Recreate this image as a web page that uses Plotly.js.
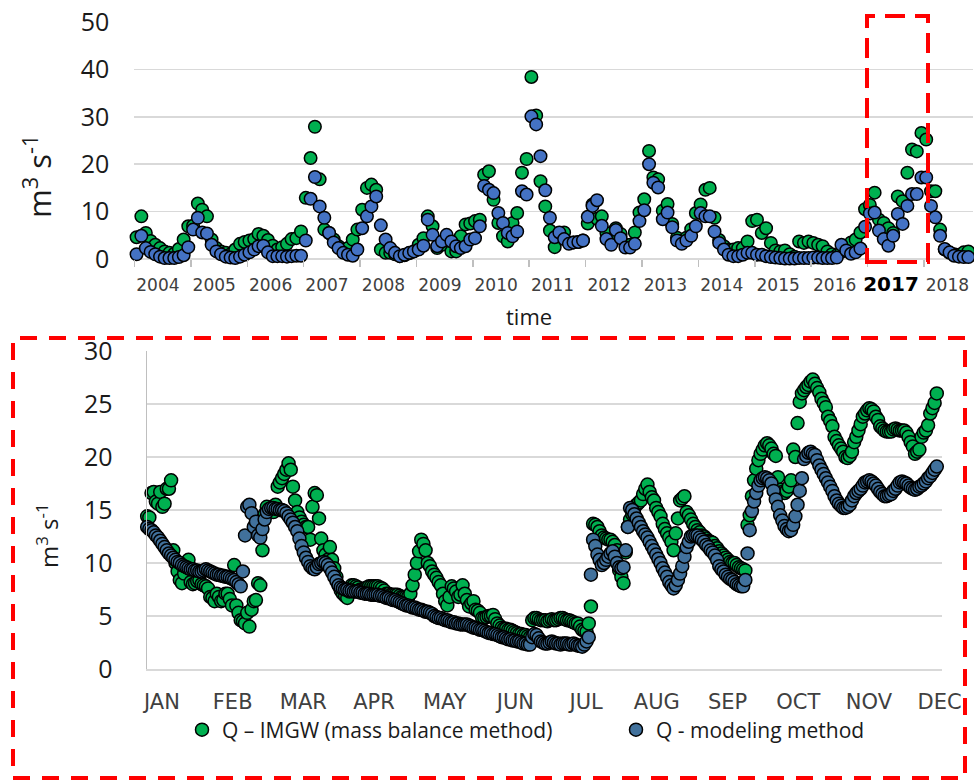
<!DOCTYPE html>
<html>
<head>
<meta charset="utf-8">
<script src="https://cdn.plot.ly/plotly-3.0.1.min.js"></script>
<style>html,body{margin:0;padding:0;background:#fff}#chart{width:974px;height:781px}</style>
</head>
<body>
<div id="chart"></div>
<script>
// ---------- Top chart: monthly discharge 2004-01 .. 2018-10 ----------
const topYears = [2004,2005,2006,2007,2008,2009,2010,2011,2012,2013,2014,2015,2016,2017,2018];
const topYearLabels = ["2004","2005","2006","2007","2008","2009","2010","2011","2012","2013","2014","2015","2016","2017","2018"];
const topModel = [
  1.0, 4.9, 2.3, 1.5, 1.0, 0.5, 0.2, 0.2, 0.2, 0.4, 0.8, 2.5,
  6.2, 8.7, 5.6, 5.4, 3.0, 1.6, 1.0, 0.5, 0.3, 0.2, 0.5, 0.9,
  1.4, 2.0, 2.7, 2.8, 1.4, 0.6, 0.6, 0.6, 0.5, 0.6, 0.7, 0.7,
  3.9, 12.7, 17.3, 11.1, 8.7, 5.5, 3.5, 2.3, 1.3, 0.9, 0.7, 2.0,
  6.5, 9.0, 11.1, 13.2, 7.1, 4.1, 2.3, 1.3, 0.6, 0.9, 1.3, 1.6,
  2.0, 2.8, 8.3, 5.1, 2.7, 3.7, 5.1, 3.7, 2.7, 2.3, 2.7, 4.1,
  4.4, 6.9, 15.4, 14.6, 13.9, 9.7, 7.6, 5.5, 4.8, 5.8, 14.3, 13.6,
  30.1, 28.4, 21.7, 14.5, 8.7, 4.6, 5.6, 4.2, 3.2, 3.5, 3.6, 3.9,
  8.9, 11.2, 12.4, 7.0, 4.2, 3.0, 6.1, 4.4, 2.4, 2.4, 3.2, 8.0,
  10.3, 20.0, 16.1, 15.1, 8.4, 9.8, 6.7, 3.9, 3.2, 3.9, 4.9, 6.9,
  9.7, 9.0, 9.0, 5.8, 3.4, 2.0, 0.9, 0.6, 0.6, 0.9, 1.3, 1.3,
  0.9, 0.9, 0.6, 0.4, 0.3, 0.2, 0.1, 0.1, 0.1, 0.2, 0.2, 0.2,
  0.3, 0.3, 0.2, 0.2, 0.2, 0.3, 3.0, 1.8, 1.1, 1.4, 2.2, 6.8,
  9.6, 9.8, 6.0, 4.2, 2.8, 4.9, 9.5, 7.4, 11.2, 13.7, 13.7, 17.2,
  17.2, 11.2, 8.8, 4.9, 2.1, 1.4, 0.7, 0.5, 0.4, 0.4
];
const topIMGW = [
  4.6, 9.0, 5.5, 3.8, 3.0, 2.3, 1.6, 1.3, 1.1, 2.1, 4.1, 6.9,
  7.0, 11.7, 10.4, 9.0, 4.1, 2.3, 1.6, 1.3, 1.0, 2.0, 3.2, 3.6,
  3.9, 4.2, 5.3, 4.9, 4.0, 2.8, 2.0, 2.5, 3.2, 4.2, 4.4, 5.8,
  12.9, 21.3, 27.9, 16.8, 6.2, 5.5, 4.1, 2.7, 2.0, 2.3, 4.1, 6.2,
  10.4, 15.0, 15.7, 14.6, 2.0, 1.3, 1.3, 1.0, 0.6, 0.8, 1.2, 1.6,
  3.0, 4.4, 9.0, 6.9, 2.3, 3.0, 4.0, 1.6, 1.6, 4.8, 7.3, 7.5,
  8.0, 8.3, 17.8, 18.5, 12.5, 7.6, 4.8, 3.7, 7.6, 9.7, 18.2, 21.1,
  38.4, 30.3, 16.4, 11.1, 6.0, 2.5, 5.5, 5.6, 3.5, 3.5, 3.6, 3.9,
  7.5, 11.5, 8.5, 9.0, 5.5, 4.0, 6.5, 5.3, 3.0, 3.0, 5.6, 9.8,
  12.6, 22.8, 17.2, 16.8, 10.2, 11.6, 7.4, 4.5, 3.8, 4.5, 6.3, 9.7,
  11.5, 14.6, 15.0, 8.7, 4.0, 2.7, 2.0, 2.0, 2.3, 2.3, 3.7, 8.0,
  8.3, 5.5, 6.5, 3.4, 1.8, 1.6, 1.8, 1.0, 0.5, 3.7, 3.4, 3.7,
  3.4, 3.0, 2.7, 1.6, 1.0, 0.8, 1.5, 2.2, 3.5, 4.1, 5.6, 10.5,
  11.4, 14.0, 8.3, 7.6, 6.5, 5.5, 13.2, 12.2, 18.2, 23.1, 22.7, 26.6,
  25.2, 14.3, 14.3, 6.2, 2.0, 1.3, 1.0, 0.9, 1.4, 1.6
];

// ---------- Bottom chart: daily discharge 2017 ----------
const monthLabels = ["JAN","FEB","MAR","APR","MAY","JUN","JUL","AUG","SEP","OCT","NOV","DEC"];
const dailyModel = [
  13.5,13.4,13.2,13.1,12.9,12.6,12.4,12.1,11.8,11.5,
  11.2,10.9,10.7,10.5,10.3,10.1,10.0,9.8,9.7,9.6,
  9.5,9.4,9.4,9.3,9.3,9.2,9.2,9.3,9.4,9.3,
  9.2,9.1,9.0,8.9,8.9,8.8,8.8,8.7,8.7,8.6,
  8.5,8.4,8.2,8.0,7.8,9.2,12.6,15.3,15.5,14.7,
  13.4,13.9,12.6,12.4,13.2,14.1,14.8,15.1,15.2,15.2,
  15.1,15.1,15.0,15.0,14.9,14.7,14.4,14.1,13.8,13.4,
  13.0,12.3,11.6,11.0,10.5,10.1,9.7,9.5,9.4,9.6,
  9.9,10.0,10.1,10.0,9.8,9.5,9.1,8.7,8.3,7.9,
  7.7,7.6,7.5,7.5,7.4,7.4,7.3,7.3,7.3,7.2,
  7.2,7.1,7.1,7.1,7.0,7.0,7.0,7.0,6.9,6.9,
  6.8,6.7,6.7,6.6,6.5,6.5,6.4,6.3,6.2,6.1,
  6.0,6.0,5.9,5.8,5.8,5.7,5.6,5.6,5.5,5.4,
  5.4,5.3,5.2,5.0,4.9,4.8,4.8,4.7,4.6,4.6,
  4.5,4.4,4.4,4.3,4.3,4.2,4.2,4.2,4.2,4.1,
  4.0,3.9,3.9,3.8,3.7,3.7,3.6,3.5,3.4,3.4,
  3.3,3.3,3.2,3.1,3.0,3.0,2.9,2.8,2.8,2.7,
  2.7,2.6,2.6,2.5,2.4,2.4,2.3,2.3,3.0,3.3,
  3.2,2.9,2.6,2.5,2.4,2.4,2.5,2.6,2.5,2.4,
  2.4,2.3,2.4,2.4,2.4,2.3,2.3,2.4,2.3,2.2,
  2.2,2.1,2.3,2.6,3.0,8.9,12.2,11.6,10.8,10.3,
  9.8,10.0,10.3,10.6,10.9,11.1,10.6,10.0,9.6,9.5,
  9.6,11.2,13.4,15.2,15.0,14.6,14.2,13.8,13.4,13.0,
  12.7,12.4,12.0,11.6,11.2,10.8,10.4,10.0,9.5,9.1,
  8.7,8.2,7.9,7.6,7.9,8.4,9.0,9.7,10.6,11.5,
  12.0,12.5,12.6,12.6,12.6,12.4,12.2,12.0,11.7,11.5,
  11.2,11.0,10.7,10.3,9.7,9.4,9.2,8.9,8.7,8.5,
  8.4,8.2,8.0,7.9,7.8,7.8,8.4,10.9,13.1,14.9,
  15.8,16.6,17.3,17.8,18.0,18.1,18.0,17.8,17.5,16.8,
  16.0,15.3,14.5,14.0,13.5,13.2,13.0,13.1,13.6,14.4,
  15.5,16.8,18.0,19.8,20.1,20.4,20.5,20.3,20.2,19.7,
  19.2,18.8,18.4,18.0,17.6,17.2,16.8,16.3,15.9,15.6,
  15.4,15.2,15.2,15.3,15.5,15.9,16.3,16.6,16.8,17.0,
  17.3,17.6,17.7,17.8,17.7,17.5,17.3,17.0,16.7,16.5,
  16.3,16.3,16.4,16.5,16.8,17.0,17.3,17.6,17.7,17.6,
  17.5,17.3,17.1,17.0,16.9,17.0,17.2,17.3,17.5,17.7,
  18.0,18.2,18.5,18.8,19.1
];
const dailyIMGW = [
  14.8,14.4,14.3,16.6,16.7,15.8,15.6,16.7,15.3,15.6,
  17.0,17.0,17.8,11.2,10.0,9.2,8.4,8.1,9.0,10.0,
  10.3,8.2,8.0,8.1,8.3,8.4,8.0,7.9,7.8,7.6,
  6.8,6.7,6.4,7.1,6.8,6.4,6.5,7.1,7.1,6.6,
  6.0,9.8,6.0,5.3,4.6,4.5,4.3,5.3,4.0,5.6,
  6.4,6.5,8.1,7.9,11.2,14.6,15.3,15.0,14.9,14.8,
  15.5,17.2,17.6,18.0,18.4,18.8,19.4,18.8,17.2,15.9,
  14.8,14.3,13.9,13.6,13.4,13.4,12.2,15.3,16.6,16.4,
  14.2,12.3,11.2,10.8,10.3,11.5,10.3,9.5,8.7,7.9,
  7.4,7.1,6.9,6.7,7.3,7.9,7.9,7.8,7.7,7.5,
  7.5,7.6,7.7,7.8,7.8,7.8,7.8,7.8,7.7,7.6,
  7.4,7.1,7.1,7.0,7.0,7.0,7.0,6.9,6.8,6.8,
  6.8,6.8,7.1,7.9,8.9,10.0,11.1,12.2,11.8,11.2,
  10.0,9.7,9.2,8.9,8.6,8.2,7.9,7.1,6.4,6.0,
  6.8,7.8,7.6,7.3,6.8,7.0,7.9,7.1,6.5,5.9,
  6.2,6.4,5.6,5.5,5.3,4.8,4.8,4.9,5.0,5.0,
  5.1,4.7,4.3,4.1,3.9,3.8,3.8,3.7,3.7,3.6,
  3.5,3.4,3.3,3.3,3.2,3.2,3.1,3.0,4.6,4.8,
  4.8,4.7,4.6,4.6,4.6,4.5,4.6,4.7,4.6,4.6,
  4.7,4.8,4.8,4.7,4.6,4.6,4.5,4.4,4.3,4.3,
  4.0,3.7,3.6,3.5,4.3,5.9,13.7,13.6,13.4,13.0,
  12.6,12.4,12.3,12.2,12.2,12.0,11.7,11.2,9.3,8.7,
  8.1,11.0,13.4,14.1,14.6,15.2,15.5,15.7,15.9,16.5,
  17.0,17.4,16.7,16.2,15.9,15.2,14.8,14.4,13.7,13.2,
  12.8,12.4,12.0,11.2,12.8,14.2,15.9,16.1,16.3,14.8,
  14.5,14.1,13.7,13.4,13.1,12.9,12.6,12.5,12.3,12.1,
  12.0,11.9,11.6,11.4,11.1,10.9,10.7,10.5,10.3,10.1,
  10.0,10.0,9.8,9.6,9.5,9.4,9.3,13.6,14.5,16.3,
  17.8,18.9,19.7,20.3,20.7,21.1,21.3,21.1,20.8,20.3,
  20.1,18.1,16.9,16.7,16.6,16.8,17.2,17.8,20.7,20.0,
  23.2,25.2,26.0,26.3,26.6,26.8,27.1,27.3,26.9,26.5,
  26.1,25.5,25.1,24.7,23.8,23.4,22.9,21.9,21.5,21.1,
  20.8,20.5,20.0,19.9,20.1,20.5,21.4,21.9,22.5,23.1,
  23.8,24.1,24.4,24.6,24.5,24.3,23.8,23.5,22.9,22.7,
  22.5,22.4,22.4,22.4,22.6,22.7,22.6,22.5,22.5,22.5,
  22.3,21.9,21.4,21.0,20.3,20.5,20.7,21.9,22.3,22.5,
  23.0,24.1,24.6,25.1,26.0
];

// ---------- derived coordinates ----------
const topDates = topModel.map((_, i) => {
  const y = 2004 + Math.floor(i / 12);
  const m = (i % 12) + 1;
  return y + "-" + String(m).padStart(2, "0") + "-15";
});
const days = dailyModel.map((_, i) => i + 1);

const W = 974, H = 781;
const px = v => v / W, py = v => 1 - v / H;
const narrow = "'Liberation Sans Narrow','DejaVu Sans',sans-serif";
const sans = "'Open Sans','Noto Sans',sans-serif";
const green = "#00b050", blueTop = "#4472c4", blueBot = "#41719c";

const mk = (c, s) => ({color: c, size: s, line: {color: "#000", width: 1.5}});

const traces = [
  {x: topDates, y: topIMGW, type: "scatter", mode: "markers", xaxis: "x", yaxis: "y",
   marker: mk(green, 12.5), showlegend: false, cliponaxis: false, hoverinfo: "skip"},
  {x: topDates, y: topModel, type: "scatter", mode: "markers", xaxis: "x", yaxis: "y",
   marker: mk(blueTop, 12.5), showlegend: false, cliponaxis: false, hoverinfo: "skip"},
  {x: days, y: dailyIMGW, type: "scatter", mode: "markers", xaxis: "x2", yaxis: "y2",
   marker: mk(green, 13), name: "Q \u2013 IMGW (mass balance method)", legend: "legend",
   cliponaxis: false, hoverinfo: "skip"},
  {x: days, y: dailyModel, type: "scatter", mode: "markers", xaxis: "x2", yaxis: "y2",
   marker: mk(blueBot, 13), name: "Q - modeling method", legend: "legend2",
   cliponaxis: false, hoverinfo: "skip"}
];

const yearTickVals = topYears.map(y => y + "-06-01");
const yearTickText = topYearLabels.map(t => t === "2017"
  ? '<b><span style="font-size:20px;color:#000">' + t + '</span></b>' : t);
const yearStarts = topYears.map(y => y + "-01-01");

const layout = {
  width: W, height: H,
  margin: {l: 0, r: 0, t: 0, b: 0},
  paper_bgcolor: "#fff", plot_bgcolor: "rgba(0,0,0,0)",
  xaxis: {
    type: "date", domain: [px(134.4), px(973)], range: ["2004-01-01", "2018-11-14"],
    anchor: "y", tickmode: "array", tickvals: yearTickVals, ticktext: yearTickText,
    ticks: "", showgrid: false, zeroline: false, showline: false,
    tickfont: {family: narrow, size: 17, color: "#404040", stretch: "condensed"}, ticklabelstandoff: 14,
    minor: {tickmode: "array", tickvals: yearStarts, ticks: "outside", ticklen: 7,
            tickcolor: "#bfbfbf", tickwidth: 1.5, showgrid: false},
    automargin: false, fixedrange: true
  },
  yaxis: {
    domain: [py(259), py(22)], range: [0, 50], dtick: 10, anchor: "x",
    showgrid: true, gridcolor: "#d9d9d9", gridwidth: 1.5, zeroline: true,
    zerolinecolor: "#d9d9d9", zerolinewidth: 1.5, showline: false, ticks: "",
    tickfont: {family: sans, size: 25, color: "#1a1a1a"}, ticklabelstandoff: 24,
    automargin: false, fixedrange: true
  },
  xaxis2: {
    domain: [px(147), px(942)], range: [1.92, 367.4], anchor: "y2",
    tickmode: "array", tickvals: monthLabels.map((_, i) => 8.8 + 32.5 * i), ticktext: monthLabels,
    ticks: "", showgrid: false, zeroline: false, showline: true, linecolor: "#d9d9d9", linewidth: 1.5,
    tickfont: {family: narrow, size: 21, color: "#404040", stretch: "condensed"}, ticklabelstandoff: 13,
    automargin: false, fixedrange: true
  },
  yaxis2: {
    domain: [py(669), py(351)], range: [0, 30], dtick: 5, anchor: "x2",
    showgrid: true, gridcolor: "#d9d9d9", gridwidth: 1.5, zeroline: false,
    showline: true, linecolor: "#bfbfbf", linewidth: 1.5, ticks: "",
    tickfont: {family: sans, size: 25, color: "#1a1a1a"}, ticklabelstandoff: 28,
    automargin: false, fixedrange: true
  },
  legend: {x: px(182), y: py(730), xanchor: "left", yanchor: "middle", orientation: "h",
           font: {family: sans, size: 21, color: "#1a1a1a"}, bgcolor: "rgba(0,0,0,0)"},
  legend2: {x: px(616), y: py(730), xanchor: "left", yanchor: "middle", orientation: "h",
            font: {family: sans, size: 21, color: "#1a1a1a"}, bgcolor: "rgba(0,0,0,0)"},
  annotations: [
    {text: "m<sup>3</sup> s<sup>-1</sup>", xref: "paper", yref: "paper", x: px(37), y: py(177),
     xanchor: "center", yanchor: "middle", textangle: -90, showarrow: false,
     font: {family: sans, size: 31, color: "#1a1a1a"}},
    {text: "time", xref: "paper", yref: "paper", x: px(529), y: py(316),
     xanchor: "center", yanchor: "middle", showarrow: false,
     font: {family: sans, size: 22, color: "#1a1a1a"}},
    {text: "m<sup>3</sup> s<sup>-1</sup>", xref: "paper", yref: "paper", x: px(47), y: py(536),
     xanchor: "center", yanchor: "middle", textangle: -90, showarrow: false,
     font: {family: sans, size: 24, color: "#1a1a1a"}}
  ],
  shapes: [
    {type: "rect", xref: "paper", yref: "paper", x0: px(867), x1: px(928), y0: py(262), y1: py(16),
     line: {color: "#ff0000", width: 4, dash: "20px,10px"}, fillcolor: "rgba(0,0,0,0)"},
    {type: "rect", xref: "paper", yref: "paper", x0: px(13), x1: px(965), y0: py(778), y1: py(338),
     line: {color: "#ff0000", width: 4, dash: "17px,12px"}, fillcolor: "rgba(0,0,0,0)"}
  ]
};

Plotly.newPlot("chart", traces, layout, {displayModeBar: false, staticPlot: true});
</script>
</body>
</html>
